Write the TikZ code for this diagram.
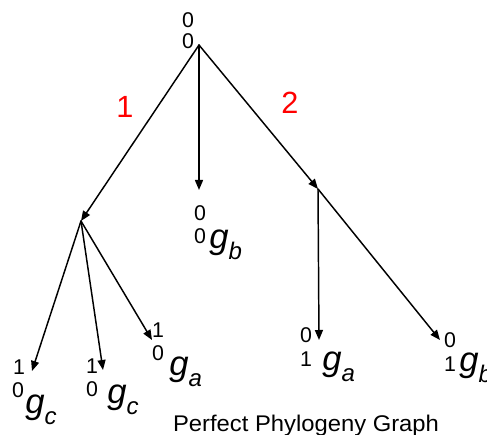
\documentclass[tikz,border=0pt]{standalone}
\usepackage{fontspec}
\setmainfont{Liberation Sans}
\usetikzlibrary{arrows.meta}
\newcommand{\gsub}[1]{\fontsize{26}{28}\selectfont\textit{g}\raisebox{-8pt}{\fontsize{18}{20}\selectfont\textit{#1}}}
\tikzset{
  every picture/.style={line join=round, line cap=round, >={Triangle[length=7.5pt,width=6pt]}},
  edge/.style={->, line width=1.1pt},
  dig/.style={font=\fontsize{16}{17}\selectfont, inner sep=0pt},
  gene/.style={anchor=base west, inner sep=0pt},
  cut/.style={red, font=\fontsize{23}{25}\selectfont, inner sep=0pt},
  caption/.style={anchor=base, inner sep=0pt, font=\fontsize{17}{19}\selectfont},
}
\begin{document}
\begin{tikzpicture}[x=0.75pt, y=-0.75pt]
\useasboundingbox (0,0) rectangle (487,435);
% tree points
\coordinate (r) at (199,45);
\coordinate (m) at (199,190);
\coordinate (u) at (81,221);
\coordinate (v) at (318,189);
\coordinate (l1) at (32,371);
\coordinate (l2) at (103,370);
\coordinate (l3) at (152,340);
\coordinate (l4) at (319,340);
\coordinate (l5) at (440,340);
% edges
\draw[edge] (r) -- (u);
\draw[edge] (r) -- (m);
\draw[edge] (r) -- (v);
\draw[edge] (u) -- (l1);
\draw[edge] (u) -- (l2);
\draw[edge] (u) -- (l3);
\draw[edge] (v) -- (l4);
\draw[edge] (v) -- (l5);
% mutations
\node[cut] (c1) at (125,107) {1};
\node[cut] (c2) at (290,103) {2};
% root
\node[dig] (ra) at (188,20) {0};
\node[dig] (rb) at (188,41) {0};
% middle leaf
\node[dig] (ma) at (200,213) {0};
\node[dig] (mb) at (200,236) {0};
\node[gene] (mg) at (209,249) {\gsub{b}};
% left subtree
\node[dig] (a1) at (19,367) {1};
\node[dig] (b1) at (18,390) {0};
\node[gene] (g1) at (25,414) {\gsub{c}};
\node[dig] (a2) at (92,366) {1};
\node[dig] (b2) at (92,389) {0};
\node[gene] (g2) at (107,404) {\gsub{c}};
\node[dig] (a3) at (158,330) {1};
\node[dig] (b3) at (158,353) {0};
\node[gene] (g3) at (169,376) {\gsub{a}};
% right subtree
\node[dig] (a4) at (306,335) {0};
\node[dig] (b4) at (306,359) {1};
\node[gene] (g4) at (322,371) {\gsub{a}};
\node[dig] (a5) at (450,340) {0};
\node[dig] (b5) at (450,364) {1};
\node[gene] (g5) at (459,372) {\gsub{b}};
% caption
\node[caption] (ttl) at (306,432) {\scalebox{1.05}[1]{Perfect Phylogeny Graph}};
\end{tikzpicture}
\end{document}
